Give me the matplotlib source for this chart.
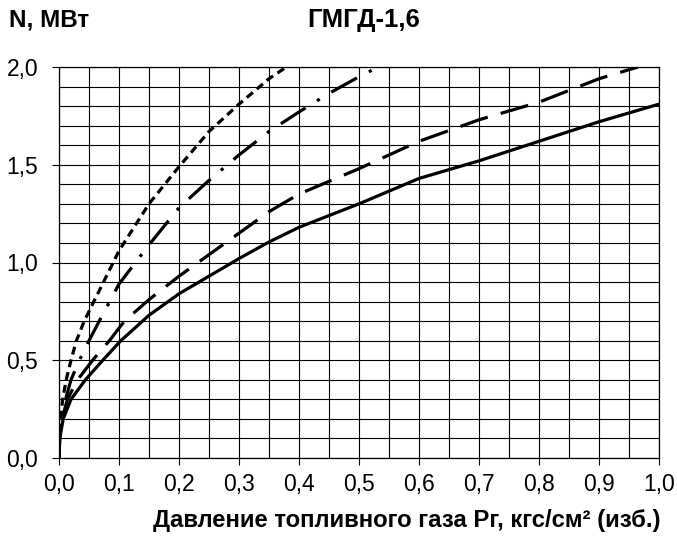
import numpy as np
import matplotlib
matplotlib.use('Agg')
import matplotlib.pyplot as plt
from matplotlib.ticker import MultipleLocator, FuncFormatter

plt.rcParams['font.family'] = ['Liberation Sans', 'DejaVu Sans']

# pressure Pг, kgf/cm2 and power N, MW
p_solid = [0, 0.0013, 0.007, 0.02, 0.044, 0.073, 0.103, 0.15, 0.2, 0.25, 0.3,
           0.35, 0.4, 0.5, 0.6, 0.7, 0.8, 0.9, 1.0]
n_solid = [0, 0.1, 0.2, 0.3, 0.4, 0.5, 0.6, 0.73, 0.84, 0.93, 1.02,
           1.105, 1.18, 1.3, 1.43, 1.52, 1.62, 1.72, 1.81]

p_dash = [0, 0.001, 0.005, 0.014, 0.031, 0.056, 0.084, 0.109, 0.15, 0.2, 0.25,
          0.3, 0.35, 0.4, 0.5, 0.6, 0.7, 0.8, 0.9, 0.965]
n_dash = [0, 0.1, 0.2, 0.3, 0.4, 0.5, 0.6, 0.7, 0.81, 0.93, 1.04,
          1.15, 1.26, 1.35, 1.48, 1.62, 1.73, 1.82, 1.94, 2.0]

p_dashdot = [0, 0.001, 0.004, 0.011, 0.02, 0.034, 0.05, 0.067, 0.1, 0.15, 0.2,
             0.25, 0.3, 0.35, 0.4, 0.45, 0.5, 0.532]
n_dashdot = [0, 0.1, 0.2, 0.3, 0.4, 0.5, 0.6, 0.7, 0.89, 1.09, 1.28,
             1.42, 1.55, 1.67, 1.77, 1.865, 1.95, 2.0]

p_dot = [0, 0.0008, 0.003, 0.006, 0.012, 0.02, 0.029, 0.042, 0.05, 0.1, 0.15,
         0.2, 0.25, 0.3, 0.35, 0.379]
n_dot = [0, 0.1, 0.2, 0.3, 0.4, 0.5, 0.6, 0.7, 0.75, 1.06, 1.3,
         1.49, 1.67, 1.81, 1.94, 2.0]

fig = plt.figure(figsize=(6.77, 5.37), dpi=100)
ax = fig.add_axes([59 / 677, 1 - 458 / 537, 600 / 677, 391 / 537])

lw = 2.3
ax.plot(p_solid, n_solid, color='black', lw=lw)
ax.plot(p_dash, n_dash, color='black', lw=lw, dashes=(9.0, 4.2))
ax.plot(p_dashdot, n_dashdot, color='black', lw=lw, dashes=(9.2, 4.2, 1.0, 4.2))
ax.plot(p_dot, n_dot, color='black', lw=lw, dashes=(2.5, 1.6))

ax.set_xlim(0, 1.0)
ax.set_ylim(0, 2.0)
ax.xaxis.set_major_locator(MultipleLocator(0.1))
ax.xaxis.set_minor_locator(MultipleLocator(0.05))
ax.yaxis.set_major_locator(MultipleLocator(0.5))
ax.yaxis.set_minor_locator(MultipleLocator(0.1))
fmt = FuncFormatter(lambda v, pos: f'{v:.1f}'.replace('.', ','))
ax.xaxis.set_major_formatter(fmt)
ax.yaxis.set_major_formatter(fmt)
ax.grid(which='both', color='black', lw=0.8)
ax.tick_params(which='major', direction='out', length=5, width=0.8,
               labelsize=16.5)
ax.tick_params(axis='y', which='major', pad=10)
ax.tick_params(axis='x', which='major', pad=6)
ax.tick_params(which='minor', length=0)
for s in ax.spines.values():
    s.set_linewidth(0.9)
ax.set_axisbelow(True)

fig.text(9 / 677, 1 - 20 / 537, 'N, МВт', fontsize=17.5, fontweight='bold',
         va='center', ha='left')
fig.text(364 / 677, 1 - 20 / 537, 'ГМГД-1,6', fontsize=18.5, fontweight='bold',
         va='center', ha='center')
fig.text(661 / 677, 1 - 521 / 537, 'Давление топливного газа Рг, кгс/см² (изб.)',
         fontsize=17.2, fontweight='bold', va='center', ha='right')

fig.savefig('out.png', dpi=100)
